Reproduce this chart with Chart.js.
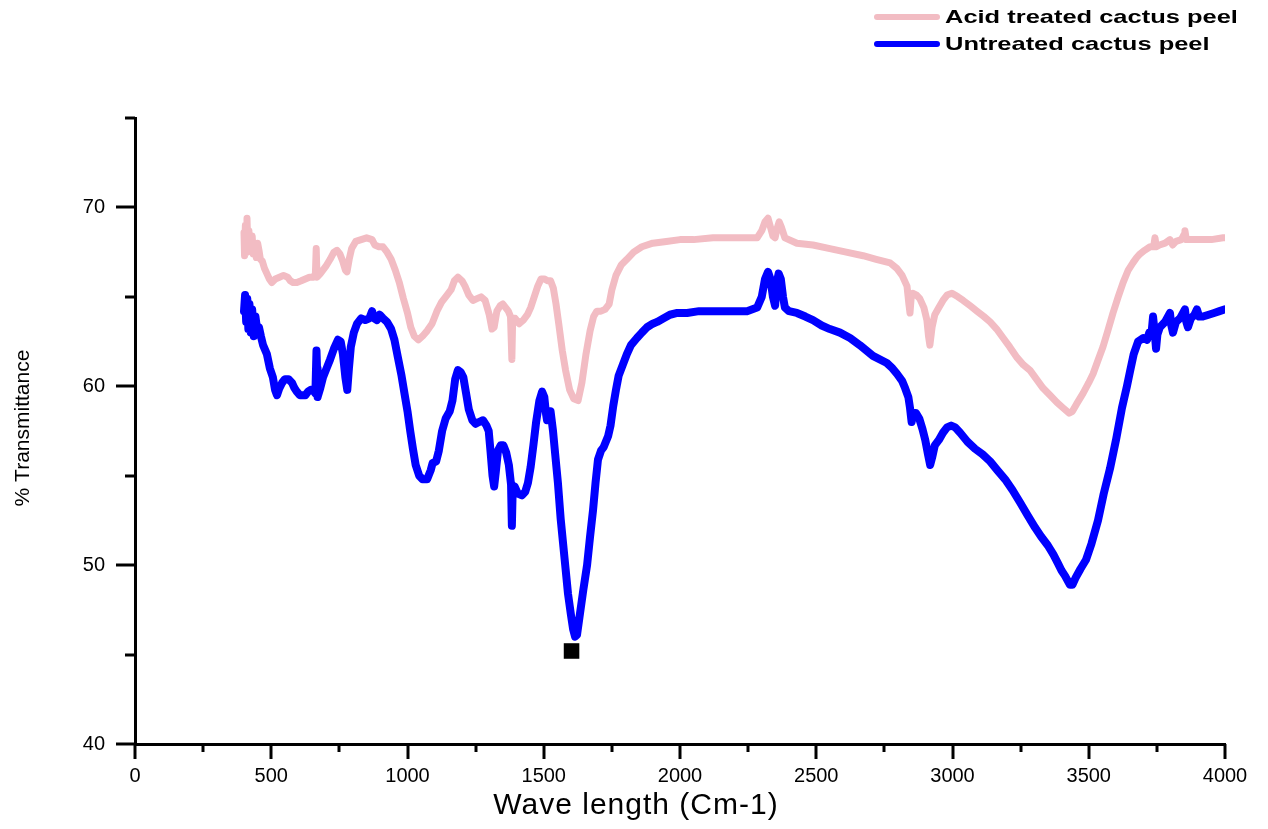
<!DOCTYPE html>
<html><head><meta charset="utf-8">
<script src="https://cdn.jsdelivr.net/npm/chart.js@4.4.1/dist/chart.umd.min.js"></script>
<style>html,body{margin:0;padding:0;background:#fff;}canvas{display:block;}</style>
</head><body>
<canvas id="c" width="1268" height="829"></canvas>
<script>
const seriesNames = ['Acid treated cactus peel', 'Untreated cactus peel'];
const xAxisTitle = 'Wave length (Cm-1)';
const yAxisTitle = '% Transmittance';
const xTickLabels = ['0','500','1000','1500','2000','2500','3000','3500','4000'];
const yTickLabels = ['40','50','60','70'];

const acidX = [400,402,405,408,411,414,418,421,425,430,434,440,445,450,455,460,467,475,484,493,502,515,530,545,560,570,580,594,610,625,640,655,662,665,668,680,700,716,730,741,752,762,772,778,786,795,810,830,850,870,880,895,910,925,940,955,970,985,1000,1012,1025,1040,1055,1072,1090,1108,1125,1145,1160,1172,1185,1200,1211,1225,1240,1255,1270,1285,1300,1310,1318,1328,1340,1350,1360,1370,1378,1383,1386,1395,1410,1425,1440,1452,1465,1478,1490,1502,1515,1525,1535,1545,1555,1568,1580,1595,1610,1626,1640,1655,1670,1683,1695,1710,1725,1740,1750,1765,1785,1805,1830,1860,1900,1950,2000,2050,2121,2200,2283,2300,2312,2323,2332,2341,2349,2356,2364,2372,2385,2429,2488,2550,2610,2672,2720,2771,2795,2815,2833,2840,2844,2848,2855,2868,2880,2895,2906,2912,2917,2925,2935,2950,2965,2980,2998,3020,3039,3065,3090,3115,3138,3162,3186,3210,3237,3260,3284,3308,3332,3358,3383,3405,3428,3440,3455,3479,3500,3516,3535,3552,3570,3589,3608,3626,3645,3662,3676,3688,3705,3725,3738,3743,3748,3760,3780,3798,3808,3820,3840,3850,3853,3858,3870,3890,3919,3950,3993,4000];
const acidY = [68.6,67.3,69.0,67.5,69.4,67.8,68.7,67.6,68.0,68.4,67.4,67.9,67.2,68.0,67.6,67.1,67.0,66.6,66.3,66.0,65.8,66.0,66.1,66.2,66.1,65.9,65.8,65.8,65.9,66.0,66.1,66.1,66.3,67.7,66.1,66.3,66.7,67.1,67.5,67.6,67.4,67.0,66.5,66.4,67.1,67.7,68.1,68.2,68.3,68.2,67.9,67.8,67.8,67.5,67.1,66.5,65.8,64.9,64.1,63.3,62.8,62.6,62.8,63.1,63.5,64.2,64.7,65.1,65.4,65.9,66.1,65.9,65.6,65.1,64.8,64.9,65.0,64.8,64.0,63.2,63.3,64.2,64.5,64.6,64.4,64.2,63.9,61.5,63.8,63.8,63.5,63.7,64.0,64.4,65.0,65.6,66.0,66.0,65.9,65.9,65.5,64.6,63.5,62.0,60.9,59.8,59.3,59.2,60.2,61.8,63.1,63.9,64.2,64.2,64.3,64.6,65.4,66.2,66.8,67.1,67.5,67.8,68.0,68.1,68.2,68.2,68.3,68.3,68.3,68.7,69.2,69.4,68.9,68.4,68.3,68.8,69.2,68.9,68.3,68.0,67.9,67.7,67.5,67.3,67.1,66.9,66.6,66.2,65.6,64.6,64.1,64.9,65.2,65.1,64.9,64.4,63.7,62.8,62.3,63.3,64.0,64.4,64.8,65.1,65.2,65.0,64.8,64.5,64.2,63.9,63.6,63.2,62.7,62.2,61.6,61.2,60.9,60.4,59.9,59.5,59.1,58.8,58.5,58.6,59.0,59.6,60.2,60.7,61.5,62.2,63.1,64.1,65.0,65.8,66.5,66.9,67.2,67.4,67.6,67.8,67.8,68.3,67.8,67.9,68.0,68.2,67.9,68.1,68.2,68.5,68.7,68.2,68.2,68.2,68.2,68.2,68.3,68.3];

const untreatedX = [400,404,408,412,416,420,425,430,436,442,448,455,462,470,484,495,506,514,521,530,540,550,563,576,585,594,605,613,625,635,645,653,662,666,668,670,680,690,703,716,730,745,755,763,772,779,785,792,803,815,830,845,860,870,878,888,898,910,925,940,952,965,978,990,1000,1010,1020,1030,1043,1055,1072,1085,1092,1105,1115,1127,1140,1155,1165,1175,1185,1195,1205,1215,1225,1238,1250,1262,1277,1290,1298,1305,1312,1318,1324,1332,1342,1352,1362,1372,1380,1383,1386,1393,1405,1420,1432,1442,1452,1462,1472,1484,1494,1502,1508,1512,1518,1525,1534,1542,1552,1562,1571,1580,1589,1600,1608,1615,1622,1633,1645,1659,1670,1681,1690,1699,1710,1720,1736,1745,1755,1765,1775,1790,1805,1820,1842,1860,1879,1900,1916,1940,1963,1990,2026,2070,2121,2180,2246,2283,2300,2312,2323,2332,2341,2349,2355,2362,2370,2378,2385,2400,2429,2460,2488,2520,2550,2587,2624,2660,2708,2759,2780,2796,2815,2826,2838,2844,2850,2856,2866,2878,2890,2900,2910,2918,2925,2935,2950,2965,2980,2995,3010,3028,3055,3083,3110,3138,3165,3193,3220,3248,3275,3303,3325,3350,3370,3387,3400,3413,3431,3440,3452,3470,3490,3510,3534,3555,3578,3600,3622,3640,3651,3665,3681,3700,3714,3722,3730,3736,3742,3747,3752,3761,3780,3798,3803,3809,3820,3835,3853,3858,3864,3875,3888,3897,3905,3919,3940,3960,3980,4000];
const untreatedY = [64.2,65.1,63.6,64.9,63.2,64.6,63.0,64.3,62.8,63.9,63.2,63.3,62.8,62.3,61.8,61.0,60.5,59.8,59.5,59.9,60.2,60.4,60.4,60.2,59.9,59.7,59.5,59.5,59.5,59.7,59.8,59.8,59.6,62.0,61.0,59.4,59.9,60.5,61.0,61.5,62.1,62.6,62.5,61.8,60.5,59.8,61.0,62.2,63.0,63.5,63.8,63.7,63.8,64.2,63.8,63.7,64.0,63.8,63.6,63.2,62.6,61.6,60.6,59.5,58.6,57.5,56.5,55.6,55.0,54.8,54.8,55.3,55.7,55.8,56.4,57.5,58.2,58.6,59.2,60.4,60.9,60.8,60.5,59.6,58.7,58.1,57.9,58.0,58.1,57.8,57.5,56.3,55.0,54.4,55.2,56.4,56.7,56.7,56.3,55.6,54.5,52.2,54.2,54.4,54.0,53.9,54.1,54.6,55.5,56.7,58.0,59.2,59.7,59.4,58.5,58.1,58.6,58.6,57.5,56.2,54.6,52.6,51.2,49.8,48.4,47.2,46.4,46.0,46.1,47.3,48.6,50.0,51.6,53.1,54.6,55.9,56.4,56.6,57.2,57.8,58.9,59.8,60.6,61.2,61.8,62.3,62.7,63.0,63.3,63.5,63.6,63.8,64.0,64.1,64.1,64.2,64.2,64.2,64.2,64.4,65.0,66.0,66.4,66.0,65.0,64.5,65.8,66.3,66.0,65.0,64.4,64.2,64.1,63.9,63.7,63.4,63.2,63.0,62.7,62.3,61.7,61.3,61.0,60.7,60.3,59.9,59.4,58.8,58.0,58.5,58.5,58.2,57.6,57.0,56.2,55.6,56.0,56.7,57.0,57.4,57.7,57.8,57.7,57.4,56.9,56.5,56.2,55.8,55.3,54.8,54.2,53.5,52.8,52.1,51.6,51.1,50.6,50.1,49.7,49.4,48.9,48.9,49.3,49.8,50.3,51.2,52.5,54.0,55.4,57.0,58.8,60.0,60.8,61.8,62.5,62.7,62.6,63.0,62.9,63.9,63.0,62.1,62.9,63.3,63.6,64.1,63.4,63.0,63.6,63.8,64.3,63.6,63.3,63.8,64.0,64.3,63.9,63.9,64.0,64.1,64.2,64.3];

const markerX = [1602];
const markerY = [45.2];

const colors = ['#F2BCC3', '#0000FF'];

function pts(xs, ys) { return xs.map((x, i) => ({x: x, y: ys[i]})); }

const FONT = "'Liberation Sans', Arial, sans-serif";

const decorPlugin = {
  id: 'decor',
  afterDraw(chart) {
    const ctx = chart.ctx, ca = chart.chartArea;
    const xs = chart.scales.x, ys = chart.scales.y;
    ctx.save();
    ctx.strokeStyle = '#000';
    ctx.lineWidth = 3;
    ctx.lineCap = 'butt';
    xs.ticks.forEach(t => {
      const px = Math.round(xs.getPixelForValue(t.value));
      const major = t.value % 500 === 0;
      ctx.beginPath();
      ctx.moveTo(px, ca.bottom);
      ctx.lineTo(px, ca.bottom + (major ? 15 : 8));
      ctx.stroke();
    });
    ys.ticks.forEach(t => {
      const py = Math.round(ys.getPixelForValue(t.value));
      const major = t.value % 10 === 0;
      ctx.beginPath();
      ctx.moveTo(ca.left, py);
      ctx.lineTo(ca.left - (major ? 19 : 10), py);
      ctx.stroke();
    });
    // axis titles
    ctx.fillStyle = '#000';
    ctx.textAlign = 'center';
    ctx.textBaseline = 'middle';
    ctx.font = '30px ' + FONT;
    ctx.letterSpacing = '1px';
    ctx.fillText(xAxisTitle, 636, 806);
    ctx.letterSpacing = '0px';
    ctx.save();
    ctx.translate(23, 428);
    ctx.rotate(-Math.PI / 2);
    ctx.font = '21px ' + FONT;
    ctx.fillText(yAxisTitle, 0, 0);
    ctx.restore();
    // legend
    const rows = [17, 44];
    chart.data.datasets.slice(0, 2).forEach((ds, i) => {
      const y = rows[i];
      ctx.strokeStyle = ds.borderColor;
      ctx.lineWidth = 6;
      ctx.lineCap = 'round';
      ctx.beginPath();
      ctx.moveTo(877, y);
      ctx.lineTo(937, y);
      ctx.stroke();
      ctx.fillStyle = '#000';
      ctx.textAlign = 'left';
      ctx.font = 'bold 19px ' + FONT;
      ctx.save();
      ctx.translate(945, y + 1);
      ctx.scale(1.34, 1);
      ctx.fillText(ds.label, 0, 0);
      ctx.restore();
    });
    ctx.restore();
  }
};

new Chart(document.getElementById('c'), {
  type: 'scatter',
  data: {
    datasets: [
      { label: seriesNames[0], data: pts(acidX, acidY), showLine: true, borderColor: colors[0], backgroundColor: colors[0], borderWidth: 7, pointRadius: 0, tension: 0, borderJoinStyle: 'round', borderCapStyle: 'round' },
      { label: seriesNames[1], data: pts(untreatedX, untreatedY), showLine: true, borderColor: colors[1], backgroundColor: colors[1], borderWidth: 8, pointRadius: 0, tension: 0, borderJoinStyle: 'round', borderCapStyle: 'round' },
      { label: 'marker', data: pts(markerX, markerY), showLine: false, pointStyle: 'rect', pointRadius: 11, backgroundColor: '#000', borderColor: '#000', borderWidth: 0 }
    ]
  },
  options: {
    responsive: false,
    animation: false,
    events: [],
    layout: { padding: { top: 118, right: 43, left: 0, bottom: 0 } },
    plugins: { legend: { display: false }, tooltip: { enabled: false }, title: { display: false } },
    scales: {
      x: {
        type: 'linear', min: 0, max: 4000,
        grid: { display: false, drawTicks: false },
        border: { display: true, color: '#000', width: 3 },
        ticks: {
          stepSize: 250, autoSkip: false, maxRotation: 0, padding: 20, color: '#000',
          font: { family: FONT, size: 20 },
          callback: (v) => xTickLabels.includes(String(v)) ? String(v) : ''
        },
        afterFit: (s) => { s.height = 85; }
      },
      y: {
        type: 'linear', min: 40, max: 75,
        grid: { display: false, drawTicks: false },
        border: { display: true, color: '#000', width: 3 },
        ticks: {
          stepSize: 5, autoSkip: false, padding: 30, color: '#000',
          font: { family: FONT, size: 20 },
          callback: (v) => yTickLabels.includes(String(v)) ? String(v) : ''
        },
        afterFit: (s) => { s.width = 135; }
      }
    }
  },
  plugins: [decorPlugin]
});
</script>
</body></html>
